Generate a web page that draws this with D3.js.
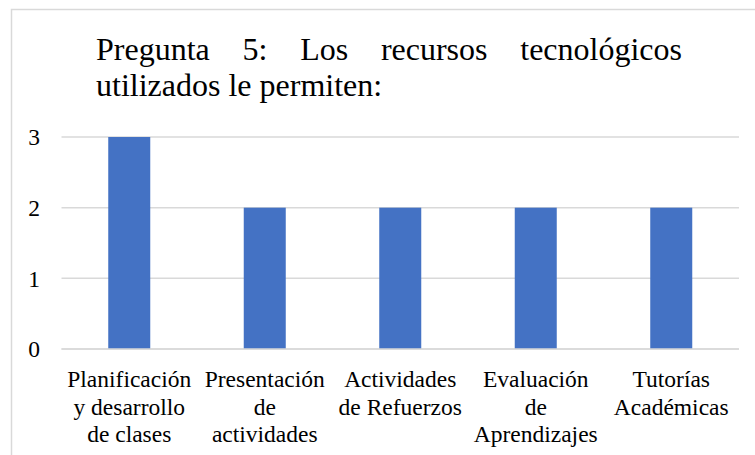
<!DOCTYPE html>
<html>
<head>
<meta charset="utf-8">
<script src="https://cdn.jsdelivr.net/npm/d3@7"></script>
<style>
  html, body { margin: 0; padding: 0; background: #fff; }
  svg { display: block; }
  text { font-family: "Liberation Serif", "Times New Roman", serif; fill: #000; }
</style>
</head>
<body>
<svg id="chart" width="755" height="455"></svg>
<script>
// ---- data ----
const titleLines = ["Pregunta 5: Los recursos tecnológicos", "utilizados le permiten:"];
const categories = [
  "Planificación\ny desarrollo\nde clases",
  "Presentación\nde\nactividades",
  "Actividades\nde Refuerzos",
  "Evaluación\nde\nAprendizajes",
  "Tutorías\nAcadémicas"
];
const values = [3, 2, 2, 2, 2];
const yTicks = [0, 1, 2, 3];

// ---- layout ----
const plot = { left: 61.5, right: 739, top: 137, bottom: 349 };
const svg = d3.select("#chart");

// chart border (extends beyond the visible area on right/bottom)
svg.append("rect")
  .attr("x", 11.5).attr("y", 9.5)
  .attr("width", 900).attr("height", 600)
  .attr("fill", "none").attr("stroke", "#d9d9d9").attr("stroke-width", 1.5);

// title (first line justified)
const titleLeft = 96, titleRight = 682;
const t1 = svg.append("g");
const words = titleLines[0].split(" ");
const wEls = words.map(w => t1.append("text").attr("y", 60).style("font-size", "32px").text(w));
const widths = wEls.map(e => e.node().getComputedTextLength());
const total = d3.sum(widths);
const gap = (titleRight - titleLeft - total) / (words.length - 1);
let cx = titleLeft;
wEls.forEach((e, i) => { e.attr("x", cx); cx += widths[i] + gap; });
svg.append("text").attr("x", titleLeft).attr("y", 96).style("font-size", "32px").text(titleLines[1]);

// scales
const x = d3.scaleBand().domain(categories).range([plot.left, plot.right])
  .paddingInner(0.69).paddingOuter(0.345);
const y = d3.scaleLinear().domain([0, 3]).range([plot.bottom, plot.top]);

// gridlines
svg.append("g").selectAll("line").data(yTicks).join("line")
  .attr("x1", plot.left).attr("x2", plot.right)
  .attr("y1", d => y(d)).attr("y2", d => y(d))
  .attr("stroke", "#d9d9d9").attr("stroke-width", 1.5);

// y axis labels
const yAxis = d3.axisLeft(y).tickValues(yTicks).tickSize(0).tickPadding(0).tickFormat(d3.format("d"));
const gy = svg.append("g").attr("transform", "translate(40,0)").call(yAxis);
gy.select(".domain").remove();
gy.selectAll("text").style("font-family", '"Liberation Serif", "Times New Roman", serif')
  .style("font-size", "23.5px").attr("fill", "#000").attr("dy", "0.33em");

// bars
svg.append("g").selectAll("rect").data(values).join("rect")
  .attr("x", (d, i) => x(categories[i]))
  .attr("width", x.bandwidth())
  .attr("y", d => y(d))
  .attr("height", d => y(0) - y(d))
  .attr("fill", "#4472c4");

// redraw baseline over bars
svg.append("line").attr("x1", plot.left).attr("x2", plot.right)
  .attr("y1", y(0)).attr("y2", y(0)).attr("stroke", "#d9d9d9").attr("stroke-width", 1.5);

// x labels
const gx = svg.append("g");
categories.forEach(c => {
  const cxm = x(c) + x.bandwidth() / 2;
  const t = gx.append("text").attr("text-anchor", "middle").style("font-size", "23.5px");
  c.split("\n").forEach((ln, j) => {
    t.append("tspan").attr("x", cxm).attr("y", 387 + j * 27.5).text(ln);
  });
});
</script>
</body>
</html>
